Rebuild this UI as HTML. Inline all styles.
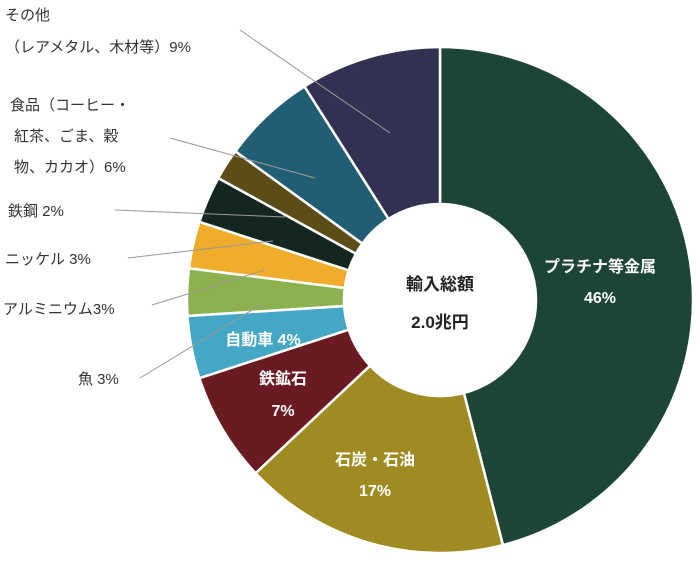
<!DOCTYPE html>
<html><head><meta charset="utf-8"><style>
body{margin:0;background:#fff;width:700px;height:565px;overflow:hidden}
text{font-family:"Liberation Sans","Noto Sans CJK JP",sans-serif}
</style></head><body>
<svg id="chart" width="700" height="565" viewBox="0 0 700 565"></svg>
<script>
const categories=["プラチナ等金属","石炭・石油","鉄鉱石","自動車","魚","アルミニウム","ニッケル","鉄鋼","食品","その他"];
const values=[46,17,7,4,3,3,3,2,6,9];
const colors=["#1d4535","#a08a22","#6a1b22","#45a7c6","#8db14e","#f0ad2c","#13261f","#5c4c18","#225e73","#323152"];
const svg=document.getElementById('chart');
const NS="http://www.w3.org/2000/svg";
const cx=440,cy=300,R=253,r=96;
const total=values.reduce((a,b)=>a+b,0);
function pt(a,rad){return [cx+rad*Math.sin(a),cy-rad*Math.cos(a)];}
let acc=0;
values.forEach((v,i)=>{
 const a0=acc/total*2*Math.PI;acc+=v;const a1=acc/total*2*Math.PI;
 const large=(a1-a0)>Math.PI?1:0;
 const [x0,y0]=pt(a0,R),[x1,y1]=pt(a1,R),[x2,y2]=pt(a1,r),[x3,y3]=pt(a0,r);
 const p=document.createElementNS(NS,'path');
 p.setAttribute('d',`M${x0},${y0}A${R},${R} 0 ${large} 1 ${x1},${y1}L${x2},${y2}A${r},${r} 0 ${large} 0 ${x3},${y3}Z`);
 p.setAttribute('fill',colors[i]);p.setAttribute('stroke','#fff');p.setAttribute('stroke-width','2.5');
 
 
 svg.appendChild(p);
});
function line(x1,y1,x2,y2,n){const l=document.createElementNS(NS,'line');
 l.setAttribute('x1',x1);l.setAttribute('y1',y1);l.setAttribute('x2',x2);l.setAttribute('y2',y2);
 l.setAttribute('stroke','#999');l.setAttribute('stroke-width','1');
 
 
 svg.appendChild(l);}
line(240,30,390,133,'leader-other');line(170,138,315,178,'leader-food');
line(115,210,285,217,'leader-steel');line(128,258,273,241,'leader-nickel');
line(152,305,265,270,'leader-aluminum');line(140,378,262,304,'leader-fish');
function txt(x,y,s,o){const t=document.createElementNS(NS,'text');
 t.setAttribute('x',x);t.setAttribute('y',y);t.textContent=s;
 t.setAttribute('font-size',o.size||15);t.setAttribute('fill',o.fill||'#333');
 if(o.bold)t.setAttribute('font-weight','bold');
 t.setAttribute('text-anchor',o.anchor||'start');
 
 
 svg.appendChild(t);}
const W={fill:'#fff',bold:1,size:16,anchor:'middle'};
txt(600,272,'プラチナ等金属',{...W,name:'label-platinum'});
txt(600,303,'46%',{...W,name:'value-platinum'});
txt(375,465,'石炭・石油',{...W,name:'label-coal'});
txt(375,496,'17%',{...W,name:'value-coal'});
txt(283,384,'鉄鉱石',{...W,name:'label-iron-ore'});
txt(283,416,'7%',{...W,name:'value-iron-ore'});
txt(263,345,'自動車 4%',{...W,name:'label-cars'});
txt(440,290,'輸入総額',{fill:'#222',bold:1,size:17,anchor:'middle',name:'center-title'});
txt(440,328,'2.0兆円',{fill:'#222',bold:1,size:17,anchor:'middle',name:'center-total'});
txt(5,20,'その他',{name:'label-other-1'});
txt(5,52,'（レアメタル、木材等）9%',{name:'label-other-2'});
txt(10,110,'食品（コーヒー・',{name:'label-food-1'});
txt(14,141,'紅茶、ごま、穀',{name:'label-food-2'});
txt(14,172,'物、カカオ）6%',{name:'label-food-3'});
txt(8,216,'鉄鋼 2%',{name:'label-steel'});
txt(5,264,'ニッケル 3%',{name:'label-nickel'});
txt(3,314,'アルミニウム3%',{name:'label-aluminum'});
txt(78,384,'魚 3%',{name:'label-fish'});
</script>
</body></html>
